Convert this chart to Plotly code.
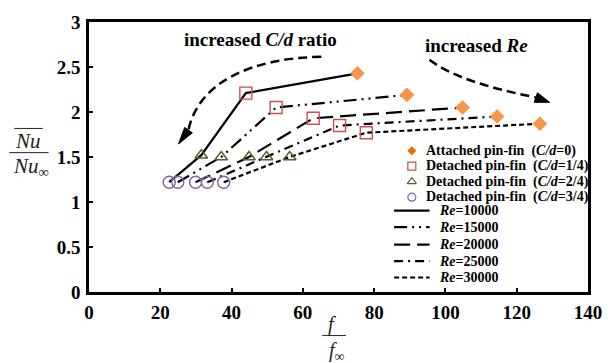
import plotly.graph_objects as go

# ---------------- data ----------------
re_values = [10000, 15000, 20000, 25000, 30000]
re_labels = ["<b><i>Re</i>=10000</b>", "<b><i>Re</i>=15000</b>", "<b><i>Re</i>=20000</b>",
             "<b><i>Re</i>=25000</b>", "<b><i>Re</i>=30000</b>"]

# f/f_inf and Nu/Nu_inf for each configuration, one value per Re
x_cd0 = [75.3, 89.2, 104.8, 114.5, 126.5]
y_cd0 = [2.43, 2.19, 2.05, 1.95, 1.87]
x_cd14 = [44.0, 52.5, 62.9, 70.3, 77.8]
y_cd14 = [2.21, 2.05, 1.93, 1.85, 1.77]
x_cd24 = [31.5, 37.1, 44.9, 49.8, 56.3]
y_cd24 = [1.52, 1.50, 1.50, 1.50, 1.50]
x_cd34 = [22.5, 24.9, 29.9, 33.2, 37.8]
y_cd34 = [1.22, 1.22, 1.22, 1.22, 1.22]

series_labels = ["<b>Attached pin-fin\u00a0\u00a0(<i>C/d</i>=0)</b>",
                 "<b>Detached pin-fin\u00a0\u00a0(<i>C/d</i>=1/4)</b>",
                 "<b>Detached pin-fin\u00a0\u00a0(<i>C/d</i>=2/4)</b>",
                 "<b>Detached pin-fin\u00a0\u00a0(<i>C/d</i>=3/4)</b>"]

x_ticks = [0, 20, 40, 60, 80, 100, 120, 140]
y_ticks = [0, 0.5, 1, 1.5, 2, 2.5, 3]
y_ticktext = ["0", "0.5", "1", "1.5", "2", "2.5", "3"]

# ---------------- styles ----------------
FONT = "Liberation Serif"
dashes = ["solid", "13px,5px,2px,5px,2px,5px", "16px,7px", "9px,5px,2px,5px", "5px,3px"]
ORANGE = "#F79646"
RED = "#C9504D"
GREEN = "#4F6228"
PURPLE = "#7F64A2"

# plot area in pixels
L, R, T, B = 89, 596, 13, 292
W, H = 614, 363

fig = go.Figure()

# lines per Re
for i in range(len(re_values)):
    fig.add_trace(go.Scatter(
        x=[x_cd34[i], x_cd24[i], x_cd14[i], x_cd0[i]],
        y=[y_cd34[i], y_cd24[i], y_cd14[i], y_cd0[i]],
        mode="lines", line=dict(color="black", width=2.2, dash=dashes[i]),
        showlegend=False, hoverinfo="skip"))

marker_specs = [
    (x_cd0, y_cd0, dict(symbol="diamond", size=10.5, color=ORANGE, line=dict(color=ORANGE, width=1))),
    (x_cd14, y_cd14, dict(symbol="square-open", size=12, color=RED, line=dict(width=1.4))),
    (x_cd24, y_cd24, dict(symbol="triangle-up-open", size=11, color=GREEN, line=dict(width=1.4))),
    (x_cd34, y_cd34, dict(symbol="circle-open", size=12, color=PURPLE, line=dict(width=1.4))),
]
for xs, ys, mk in marker_specs:
    fig.add_trace(go.Scatter(x=xs, y=ys, mode="markers", marker=mk,
                             showlegend=False, cliponaxis=False))

# ---------------- manual legend (pixel overlay axes) ----------------
leg_rows_marker = [146, 162, 178, 194]
leg_rows_line = [208, 225, 243, 260, 277]
leg_marker_specs = [
    dict(symbol="diamond", size=7, color="#E46C0A"),
    dict(symbol="square-open", size=8, color=RED, line=dict(width=1.2)),
    dict(symbol="triangle-up-open", size=8, color=GREEN, line=dict(width=1.2)),
    dict(symbol="circle-open", size=8, color=PURPLE, line=dict(width=1.2)),
]
for k in range(4):
    fig.add_trace(go.Scatter(x=[417], y=[leg_rows_marker[k]], mode="markers",
                             marker=leg_marker_specs[k], xaxis="x2", yaxis="y2",
                             showlegend=False, hoverinfo="skip", cliponaxis=False))
    fig.add_annotation(x=429, y=leg_rows_marker[k], xref="x2", yref="y2", text=series_labels[k],
                       showarrow=False, xanchor="left", yanchor="middle",
                       font=dict(family=FONT, size=14, color="black"))
for k in range(5):
    fig.add_trace(go.Scatter(x=[399, 435], y=[leg_rows_line[k]] * 2, mode="lines",
                             line=dict(color="black", width=2.2, dash=dashes[k]),
                             xaxis="x2", yaxis="y2", showlegend=False, hoverinfo="skip",
                             cliponaxis=False))
    fig.add_annotation(x=443, y=leg_rows_line[k], xref="x2", yref="y2", text=re_labels[k],
                       showarrow=False, xanchor="left", yanchor="middle",
                       font=dict(family=FONT, size=14, color="black"))

# ---------------- arrows ----------------
shapes = []
shapes.append(dict(type="path", xref="x2", yref="y2",
                   path="M 325 49 C 255 50 200 75 190 125",
                   line=dict(color="black", width=2.5, dash="9px,5px")))
shapes.append(dict(type="path", xref="x2", yref="y2",
                   path="M 180 139 L 194 127.5 L 186.2 122 Z",
                   fillcolor="black", line=dict(color="black", width=1)))
shapes.append(dict(type="path", xref="x2", yref="y2",
                   path="M 435 52 C 455 68 490 80 543 91",
                   line=dict(color="black", width=2.5, dash="9px,5px")))
shapes.append(dict(type="path", xref="x2", yref="y2",
                   path="M 557 96 L 541.3 96 L 544.7 86 Z",
                   fillcolor="black", line=dict(color="black", width=1)))

fig.add_annotation(x=263, y=31, xref="x2", yref="y2", text="<b>increased <i>C/d</i> ratio</b>",
                   showarrow=False, xanchor="center", yanchor="middle",
                   font=dict(family=FONT, size=19, color="black"))
fig.add_annotation(x=483, y=37, xref="x2", yref="y2", text="<b>increased <i>Re</i></b>",
                   showarrow=False, xanchor="center", yanchor="middle",
                   font=dict(family=FONT, size=19, color="black"))

# ---------------- axis titles as fractions ----------------
def px(xp):
    return (xp - L) / (R - L)

def py(yp):
    return (B - yp) / (B - T)

TCOL = "#222222"
def title_text(text, xp, yp, size):
    fig.add_annotation(x=px(xp), y=py(yp), xref="paper", yref="paper", text=text,
                       showarrow=False, xanchor="center", yanchor="middle",
                       font=dict(family=FONT, size=size, color=TCOL))

def title_line(x0, x1, yp):
    shapes.append(dict(type="line", xref="paper", yref="paper", x0=px(x0), x1=px(x1),
                       y0=py(yp), y1=py(yp), line=dict(color=TCOL, width=1)))

# y title
title_text("<i>Nu</i>", 27, 136, 21)
title_line(13, 42, 123)
title_line(8, 48, 148)
title_text("<i>Nu</i><sub>\u221e</sub>", 30, 163, 21)
# x title
title_text("<i>f</i>", 336, 326, 20)
title_line(326, 350, 337)
title_text("<i>f</i><sub>\u221e</sub>", 341, 353, 20)

axis_common = dict(showgrid=False, zeroline=False, showline=True, linecolor="black",
                   linewidth=2.5, mirror=True, ticks="inside", ticklen=4, tickwidth=2,
                   tickcolor="black",
                   tickfont=dict(family=FONT, size=19, color="black", weight="bold"))

fig.update_layout(
    width=W, height=H, autosize=False,
    margin=dict(l=L, r=W - R, t=T, b=H - B, pad=0),
    paper_bgcolor="white", plot_bgcolor="white",
    showlegend=False,
    font=dict(family=FONT),
    xaxis=dict(range=[0, 140], tickvals=x_ticks, ticktext=[str(v) for v in x_ticks],
               ticklabelstandoff=1, **axis_common),
    yaxis=dict(range=[0, 3], tickvals=y_ticks, ticktext=y_ticktext,
               ticklabelstandoff=2, **axis_common),
    xaxis2=dict(range=[L, R], overlaying="x", visible=False, fixedrange=True),
    yaxis2=dict(range=[B, T], overlaying="y", visible=False, fixedrange=True),
    shapes=shapes,
)

fig.write_html("out.html")
